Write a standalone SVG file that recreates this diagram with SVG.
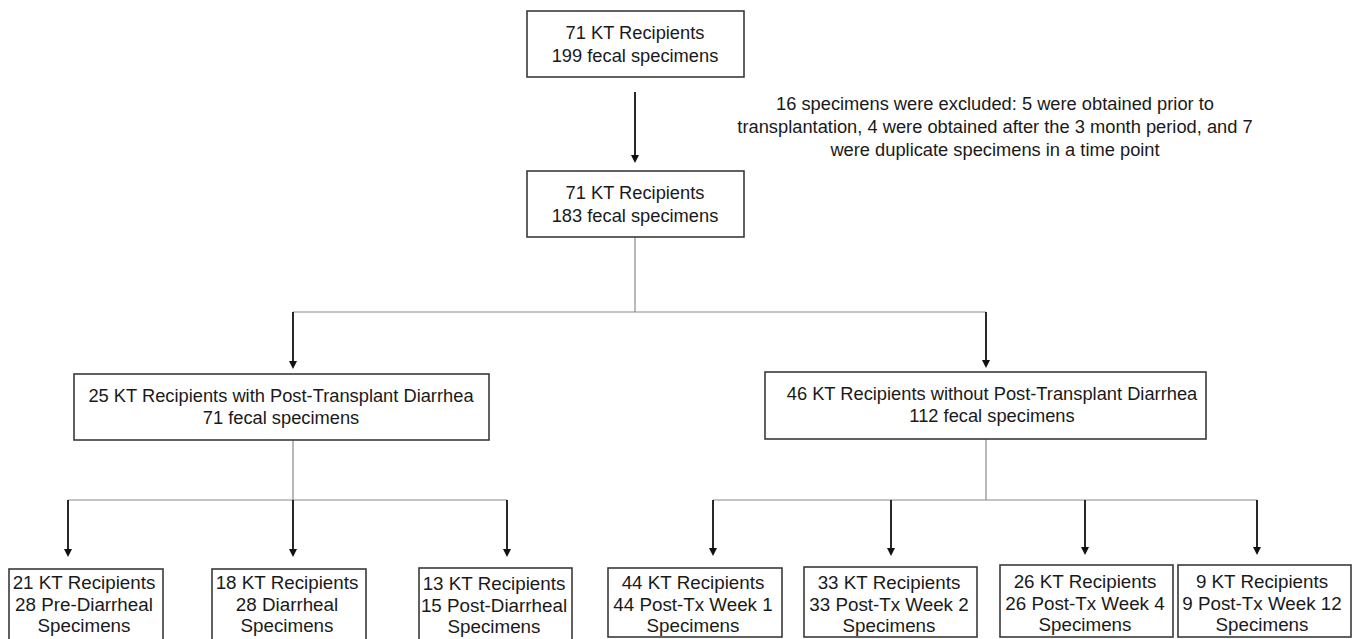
<svg xmlns="http://www.w3.org/2000/svg" width="1358" height="639" viewBox="0 0 1358 639">
<defs>
<marker id="ah" markerUnits="userSpaceOnUse" markerWidth="8" markerHeight="8" viewBox="0 0 8 8" refX="4" refY="8" orient="auto-start-reverse">
<path d="M0,0 L8,0 L4,8 Z" fill="#111" transform="rotate(0)"/>
</marker>
<style>
.box{fill:#fff;stroke:#3a3a3a;stroke-width:1.6}
.t{font-family:"Liberation Sans",Arial,sans-serif;font-size:18.3px;fill:#1a1a1a;text-anchor:middle}
.tb{font-family:"Liberation Sans",Arial,sans-serif;font-size:18.8px;fill:#1a1a1a;text-anchor:middle}
.ln{stroke:#8a8a8a;stroke-width:1.2;fill:none}
.ar{stroke:#111;stroke-width:1.8;fill:none}
</style>
</defs>
<rect width="1358" height="639" fill="#fff"/>
<g id="connectors">
<line class="ar" x1="635" y1="92" x2="635" y2="155"/>
<path d="M631,155 L639,155 L635,163 Z" fill="#111"/>
<polyline class="ln" points="635,237 635,312"/>
<line class="ln" x1="293" y1="312" x2="986" y2="312"/>
<line class="ar" x1="293" y1="312" x2="293" y2="361"/>
<path d="M289,361 L297,361 L293,369 Z" fill="#111"/>
<line class="ar" x1="986" y1="312" x2="986" y2="360"/>
<path d="M982,360 L990,360 L986,368 Z" fill="#111"/>
<line class="ln" x1="293" y1="440" x2="293" y2="500"/>
<line class="ln" x1="68" y1="500" x2="507" y2="500"/>
<line class="ar" x1="68" y1="500" x2="68" y2="549"/>
<path d="M64,549 L72,549 L68,557 Z" fill="#111"/>
<line class="ar" x1="293" y1="500" x2="293" y2="549"/>
<path d="M289,549 L297,549 L293,557 Z" fill="#111"/>
<line class="ar" x1="507" y1="500" x2="507" y2="549"/>
<path d="M503,549 L511,549 L507,557 Z" fill="#111"/>
<line class="ln" x1="986" y1="439" x2="986" y2="500"/>
<line class="ln" x1="713" y1="500" x2="1257" y2="500"/>
<line class="ar" x1="713" y1="500" x2="713" y2="548"/>
<path d="M709,548 L717,548 L713,556 Z" fill="#111"/>
<line class="ar" x1="891" y1="500" x2="891" y2="548"/>
<path d="M887,548 L895,548 L891,556 Z" fill="#111"/>
<line class="ar" x1="1085" y1="500" x2="1085" y2="547"/>
<path d="M1081,547 L1089,547 L1085,555 Z" fill="#111"/>
<line class="ar" x1="1257" y1="500" x2="1257" y2="547"/>
<path d="M1253,547 L1261,547 L1257,555 Z" fill="#111"/>
</g>
<g id="n-top">
<rect class="box" x="527" y="11" width="217" height="66"/>
<text class="t" x="635" y="39">71 KT Recipients</text>
<text class="t" x="635" y="62">199 fecal specimens</text>
</g>
<g id="n-excluded">
<text class="t" x="995" y="110">16 specimens were excluded: 5 were obtained prior to</text>
<text class="t" x="995" y="133">transplantation, 4 were obtained after the 3 month period, and 7</text>
<text class="t" x="995" y="156">were duplicate specimens in a time point</text>
</g>
<g id="n-all">
<rect class="box" x="527" y="171" width="217" height="66"/>
<text class="t" x="635" y="199">71 KT Recipients</text>
<text class="t" x="635" y="222">183 fecal specimens</text>
</g>
<g id="n-diarrhea">
<rect class="box" x="74" y="374" width="415" height="66"/>
<text class="t" x="281" y="402">25 KT Recipients with Post-Transplant Diarrhea</text>
<text class="t" x="281" y="424">71 fecal specimens</text>
</g>
<g id="n-nodiarrhea">
<rect class="box" x="765" y="372" width="441" height="67"/>
<text class="t" x="992" y="400">46 KT Recipients without Post-Transplant Diarrhea</text>
<text class="t" x="992" y="422">112 fecal specimens</text>
</g>
<g id="n-pre">
<rect class="box" x="9" y="569" width="154" height="75"/>
<text class="tb" x="84" y="589">21 KT Recipients</text>
<text class="tb" x="84" y="611">28 Pre-Diarrheal</text>
<text class="tb" x="84" y="632">Specimens</text>
</g>
<g id="n-diarrheal">
<rect class="box" x="212" y="569" width="154" height="75"/>
<text class="tb" x="287" y="589">18 KT Recipients</text>
<text class="tb" x="287" y="611">28 Diarrheal</text>
<text class="tb" x="287" y="632">Specimens</text>
</g>
<g id="n-post">
<rect class="box" x="419" y="568" width="153" height="75"/>
<text class="tb" x="494" y="590">13 KT Recipients</text>
<text class="tb" x="494" y="612">15 Post-Diarrheal</text>
<text class="tb" x="494" y="633">Specimens</text>
</g>
<g id="n-w1">
<rect class="box" x="608" y="568" width="174" height="69"/>
<text class="tb" x="693" y="589">44 KT Recipients</text>
<text class="tb" x="693" y="611">44 Post-Tx Week 1</text>
<text class="tb" x="693" y="632">Specimens</text>
</g>
<g id="n-w2">
<rect class="box" x="804" y="567" width="173" height="70"/>
<text class="tb" x="889" y="589">33 KT Recipients</text>
<text class="tb" x="889" y="611">33 Post-Tx Week 2</text>
<text class="tb" x="889" y="632">Specimens</text>
</g>
<g id="n-w4">
<rect class="box" x="1000" y="565" width="173" height="72"/>
<text class="tb" x="1085" y="588">26 KT Recipients</text>
<text class="tb" x="1085" y="610">26 Post-Tx Week 4</text>
<text class="tb" x="1085" y="631">Specimens</text>
</g>
<g id="n-w12">
<rect class="box" x="1178" y="565" width="173" height="72"/>
<text class="tb" x="1262" y="588">9 KT Recipients</text>
<text class="tb" x="1262" y="610">9 Post-Tx Week 12</text>
<text class="tb" x="1262" y="631">Specimens</text>
</g>
</svg>
